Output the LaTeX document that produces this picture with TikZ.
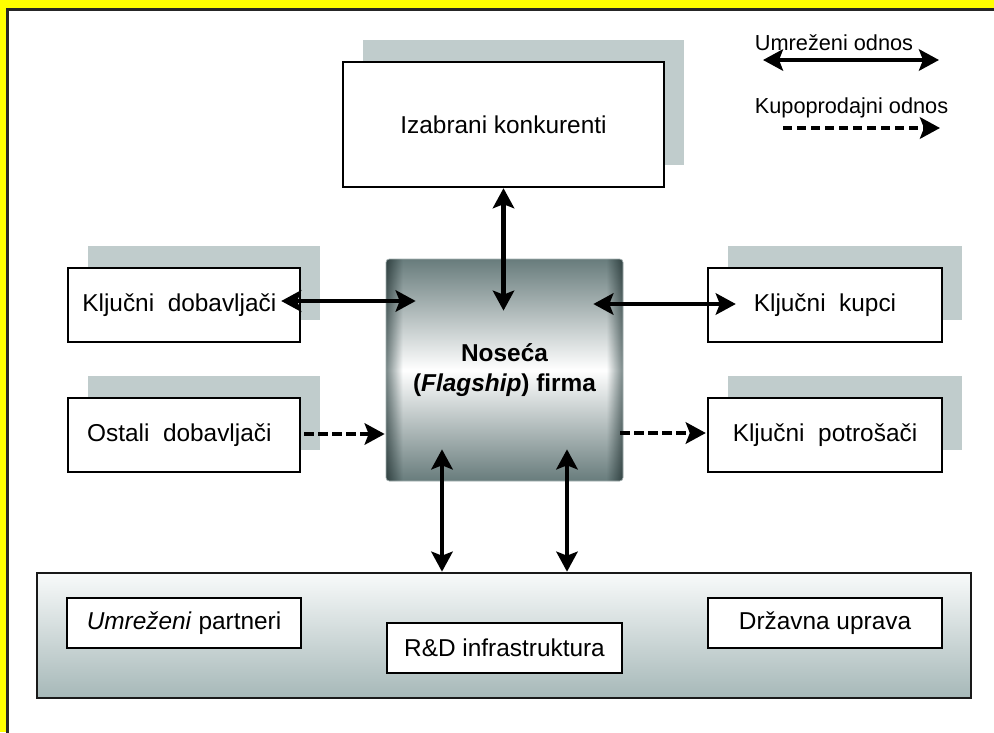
\documentclass[tikz,border=0pt]{standalone}
\usepackage{fontspec}
\setmainfont{Liberation Sans}
\usetikzlibrary{arrows.meta,shadows}

\definecolor{frameyellow}{RGB}{255,255,0}
\definecolor{shadowc}{RGB}{192,204,204}
\definecolor{hubdark}{RGB}{104,124,124}
\definecolor{hubedge}{RGB}{120,135,135}
\definecolor{basetop}{RGB}{248,250,250}
\definecolor{basebot}{RGB}{166,184,184}

% darker side bands of the central block (multiplied over its vertical shading)
\pgfdeclarehorizontalshading{hubsides}{100bp}{color(0bp)=(hubedge); color(25bp)=(hubedge);
  color(28.5bp)=(white); color(71.5bp)=(white); color(75bp)=(hubedge); color(100bp)=(hubedge)}

\begin{document}
\begin{tikzpicture}[x=0.75pt,y=-0.75pt,
  txt/.style={font=\fontsize{18.3}{23}\selectfont},
  plainbox/.style={txt, draw=black, line width=1.8pt, fill=white, inner sep=0pt},
  box/.style={plainbox, drop shadow={shadow xshift=15pt, shadow yshift=16.5pt,
      fill=shadowc, opacity=1}},
  hub/.style={txt, inner sep=0pt, align=center, rounded corners=2.5pt,
      top color=hubdark, bottom color=hubdark, middle color=white,
      draw=hubdark!60, line width=0.5pt,
      path picture={
        \begin{scope}[blend mode=multiply]
          \shade[shading=hubsides] (path picture bounding box.south west)
            rectangle (path picture bounding box.north east);
        \end{scope}
      }},
  base/.style={draw=black!90, line width=2pt, top color=basetop, bottom color=basebot,
      inner sep=0pt},
  net/.style={line width=3.2pt,
      {Stealth[length=15pt,width=16pt,inset=3pt]}-{Stealth[length=15pt,width=16pt,inset=3pt]}},
  sale/.style={line width=3.2pt, dash pattern=on 7pt off 3.5pt,
      -{Stealth[length=15pt,width=16pt,inset=3pt]}},
  legend/.style={font=\fontsize{16.3}{20}\selectfont, inner sep=0pt}
]
\useasboundingbox (0,0) rectangle (994,732);
\clip (0,0) rectangle (994,732);

% outer frame
\fill[frameyellow] (0,0) rectangle (994,732);
\fill[white, draw=black!85, line width=2.4pt] (7.5,9.5) rectangle (1010,750);

% boxes
\node[box, minimum width=240.75pt, minimum height=93.75pt] (konk) at (503.5,124.5) {Izabrani konkurenti};
\node[box, minimum width=174pt, minimum height=55.5pt] (kd) at (184,305) {Ključni\ \ dobavljači\hspace*{7pt}};
\node[box, minimum width=174pt, minimum height=55.5pt] (od) at (184,435) {Ostali\ \ dobavljači\hspace*{7pt}};
\node[box, minimum width=175.5pt, minimum height=55.5pt] (kk) at (825,305) {Ključni\ \ kupci};
\node[box, minimum width=175.5pt, minimum height=55.5pt] (kp) at (825,435) {Ključni\ \ potrošači};

\node[hub, minimum width=177.75pt, minimum height=166.5pt] (hub) at (504.5,370)
  {\bfseries Noseća\\\bfseries(\textit{Flagship}) firma};

\node[base, minimum width=700.5pt, minimum height=93.75pt] (basis) at (504,635.5) {};
\node[plainbox, minimum width=175.5pt, minimum height=37.5pt] (up) at (184,623) {\textit{Umreženi} partneri};
\node[plainbox, minimum width=176.25pt, minimum height=37.5pt] (rd) at (504.5,648) {R\&D infrastruktura};
\node[plainbox, minimum width=175.5pt, minimum height=37.5pt] (du) at (825,623) {Državna uprava};

% connectors
\draw[net] (konk.south) -- ([shift={(-1,52)}]hub.north);
\draw[net] ([shift={(-20,-4)}]kd.east) -- ([shift={(30,-69)}]hub.west);
\draw[net] ([shift={(-30,-66)}]hub.east) -- ([shift={(29,-1)}]kk.west);
\draw[sale] ([shift={(3,-1)}]od.east) -- ([shift={(-1,64)}]hub.west);
\draw[sale] ([shift={(-3,63)}]hub.east) -- ([shift={(-1,-2)}]kp.west);
\draw[net] ([shift={(-62.5,-32)}]hub.south) -- ([shift={(-62,0)}]basis.north);
\draw[net] ([shift={(62.5,-32)}]hub.south) -- ([shift={(63,0)}]basis.north);

% legend
\node[legend] (lnet) at (834,43) {Umreženi odnos};
\node[legend] (lsale) at (851.5,108) {Kupoprodajni odnos};
\coordinate (netA) at (763,60);
\coordinate (netB) at (939,60);
\coordinate (saleA) at (783,128);
\coordinate (saleB) at (940,128);
\draw[net] (netA) -- (netB);
\draw[sale] (saleA) -- (saleB);
\end{tikzpicture}
\end{document}
